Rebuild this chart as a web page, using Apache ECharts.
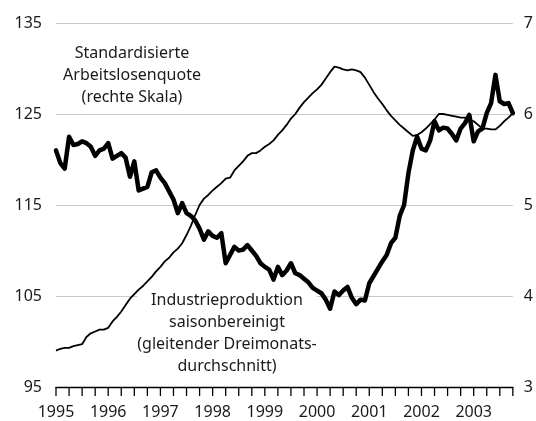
<!DOCTYPE html>
<html>
<head>
<meta charset="utf-8">
<title>Arbeitslosenquote und Industrieproduktion</title>
<script src="https://cdn.jsdelivr.net/npm/echarts@6/dist/echarts.min.js"></script>
<style>
  html, body { margin: 0; padding: 0; background: #fff; }
  #myChart { width: 536px; height: 421px; }
</style>
</head>
<body>
<div id="myChart"></div>
<script>
    // Jahre fuer die Achsenbeschriftung, Monatswerte ab Jan 1995 bis Okt 2003
    var years = ['1995', '1996', '1997', '1998', '1999', '2000', '2001', '2002', '2003'];

    // Standardisierte Arbeitslosenquote in % (rechte Skala)
    var unemployment = [
        5.60, 5.46, 5.40, 5.75, 5.66, 5.67, 5.70, 5.68, 5.64, 5.54, 5.60, 5.62,
        5.68, 5.51, 5.54, 5.57, 5.52, 5.31, 5.48, 5.16, 5.18, 5.20, 5.36, 5.38,
        5.30, 5.24, 5.15, 5.06, 4.91, 5.02, 4.91, 4.88, 4.83, 4.74, 4.62, 4.71,
        4.66, 4.64, 4.69, 4.36, 4.45, 4.54, 4.50, 4.51, 4.56, 4.50, 4.44, 4.36,
        4.32, 4.29, 4.18, 4.32, 4.23, 4.28, 4.36, 4.25, 4.23, 4.19, 4.15, 4.09,
        4.06, 4.03, 3.96, 3.86, 4.05, 4.01, 4.06, 4.10, 3.98, 3.91, 3.96, 3.95,
        4.14, 4.22, 4.30, 4.38, 4.45, 4.58, 4.64, 4.88, 5.00, 5.35, 5.60, 5.75,
        5.62, 5.60, 5.71, 5.92, 5.82, 5.85, 5.84, 5.78, 5.71, 5.84, 5.90, 5.99,
        5.70, 5.81, 5.84, 6.01, 6.12, 6.43, 6.14, 6.11, 6.12, 6.01
    ];

    // Industrieproduktion, saisonbereinigt, gleitender Dreimonatsdurchschnitt (linke Skala)
    var production = [
        99.0, 99.2, 99.3, 99.3, 99.5, 99.6, 99.7, 100.5, 100.9, 101.1, 101.3, 101.3,
        101.5, 102.2, 102.7, 103.3, 104.0, 104.7, 105.2, 105.7, 106.1, 106.6, 107.1, 107.7,
        108.2, 108.8, 109.2, 109.8, 110.2, 110.8, 111.7, 112.7, 113.9, 115.0, 115.7, 116.1,
        116.6, 117.0, 117.4, 117.9, 118.0, 118.8, 119.3, 119.8, 120.4, 120.7, 120.7, 121.0,
        121.4, 121.7, 122.1, 122.7, 123.2, 123.8, 124.5, 125.0, 125.7, 126.3, 126.8, 127.3,
        127.7, 128.2, 128.9, 129.6, 130.2, 130.1, 129.9, 129.8, 129.9, 129.8, 129.6, 129.0,
        128.2, 127.4, 126.7, 126.1, 125.4, 124.8, 124.3, 123.8, 123.4, 123.0, 122.6, 122.7,
        123.0, 123.4, 123.9, 124.4, 125.0, 125.0, 124.9, 124.8, 124.7, 124.6, 124.6, 124.4,
        124.2, 123.8, 123.4, 123.4, 123.3, 123.3, 123.7, 124.2, 124.6, 125.1
    ];

    var lastMonth = production.length - 1;

    // Quartalsstriche an der x-Achse (Monatsindex)
    var quarterTicks = [];
    for (var q = 0; q <= lastMonth; q += 3) {
        quarterTicks.push([q]);
    }

    // x = Monate seit Jan 1995
    function toPairs(values) {
        var out = [];
        for (var i = 0; i < values.length; i++) {
            out.push([i, values[i]]);
        }
        return out;
    }

    var font = 'Noto Sans';
    var textColor = '#1a1a1a';
    var labelStyle = {
        fontFamily: font,
        fontSize: 16,
        fontWeight: 'normal',
        lineHeight: 22,
        color: textColor
    };

    var option = {
        animation: false,
        title: [
            {
                text: 'Standardisierte\nArbeitslosenquote\n(rechte Skala)',
                left: 132,
                top: 42,
                textAlign: 'center',
                padding: 0,
                z: 1,
                textStyle: labelStyle
            },
            {
                text: 'Industrieproduktion\nsaisonbereinigt\n(gleitender Dreimonats-\ndurchschnitt)',
                left: 227,
                top: 289,
                textAlign: 'center',
                padding: 0,
                backgroundColor: '#fff',
                z: 1,
                textStyle: labelStyle
            }
        ],
        grid: {left: 56, right: 20, top: 23, bottom: 34},
        xAxis: {
            type: 'value',
            min: 0,
            max: lastMonth,
            interval: 12,
            axisLine: {show: true, onZero: false, lineStyle: {color: '#000', width: 1.3}},
            axisTick: {show: false},
            axisLabel: {
                formatter: function (value) {
                    if (value % 12 === 0) {
                        return years[value / 12] || '';
                    }
                    return '';
                },
                color: textColor,
                fontFamily: font,
                fontSize: 16,
                margin: 17
            },
            splitLine: {show: false}
        },
        yAxis: [
            {
                type: 'value',
                min: 95,
                max: 135,
                interval: 10,
                axisLine: {show: false},
                axisTick: {show: false},
                axisLabel: {color: textColor, fontFamily: font, fontSize: 16, margin: 14},
                splitLine: {show: true, lineStyle: {color: '#c8c8c8', width: 1}}
            },
            {
                type: 'value',
                min: 3,
                max: 7,
                interval: 1,
                position: 'right',
                axisLine: {show: false},
                axisTick: {show: false},
                axisLabel: {color: textColor, fontFamily: font, fontSize: 16, margin: 11},
                splitLine: {show: false}
            }
        ],
        series: [
            {
                name: 'Industrieproduktion',
                type: 'line',
                yAxisIndex: 0,
                data: toPairs(production),
                showSymbol: false,
                symbol: 'none',
                lineStyle: {color: '#000', width: 1.8},
                z: 3
            },
            {
                name: 'Standardisierte Arbeitslosenquote',
                type: 'line',
                yAxisIndex: 1,
                data: toPairs(unemployment),
                showSymbol: false,
                symbol: 'none',
                lineStyle: {color: '#000', width: 4.5, join: 'round', cap: 'round'},
                z: 4
            },
            {
                // Striche unter der Achse
                name: 'ticks',
                type: 'custom',
                yAxisIndex: 0,
                data: quarterTicks,
                encode: {x: 0},
                clip: false,
                silent: true,
                z: 5,
                renderItem: function (params, api) {
                    var p = api.coord([api.value(0), 95]);
                    return {
                        type: 'line',
                        shape: {x1: p[0], y1: p[1], x2: p[0], y2: p[1] + 9},
                        style: {stroke: '#000', lineWidth: 1.3}
                    };
                }
            }
        ]
    };

    var myChart = echarts.init(document.getElementById('myChart'));
    myChart.setOption(option);
</script>
</body>
</html>
